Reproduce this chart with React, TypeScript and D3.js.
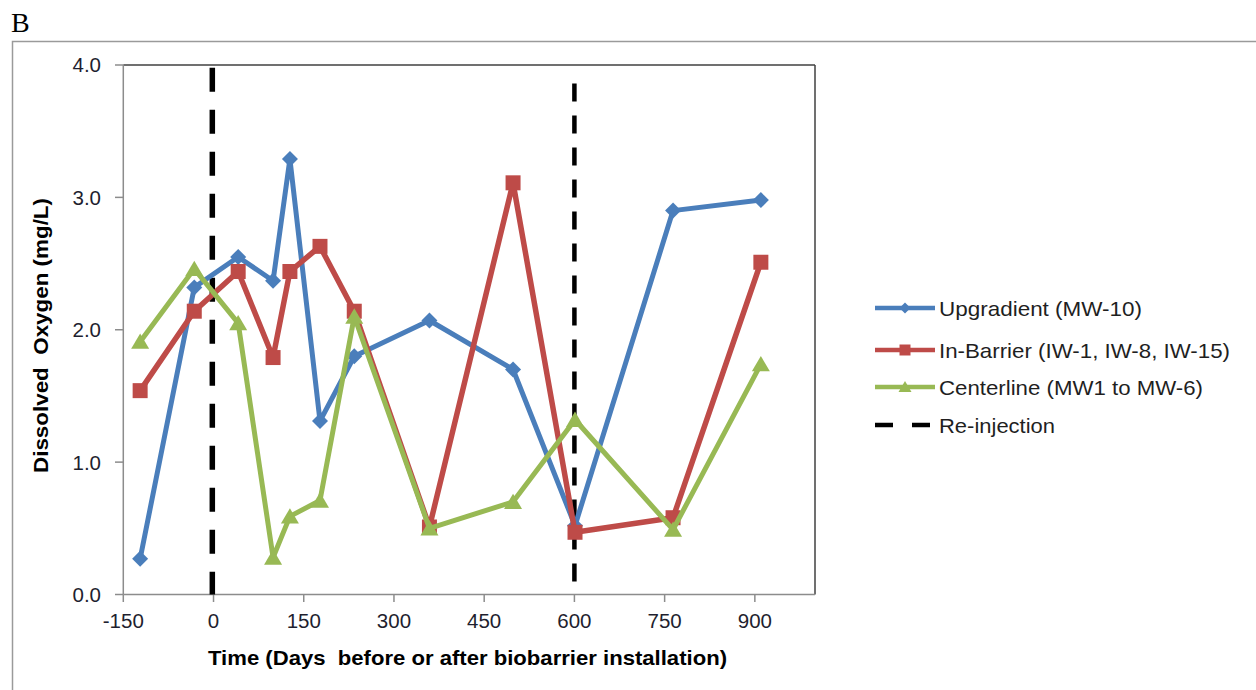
import React from 'react';
import * as d3 from 'd3';

// ---- data ----
const days = [-122, -32, 41, 99, 127, 177, 234, 359, 498, 601, 764, 910];
const upgradient = [0.27, 2.32, 2.55, 2.37, 3.29, 1.31, 1.80, 2.07, 1.70, 0.52, 2.90, 2.98];
const inBarrier = [1.54, 2.14, 2.44, 1.79, 2.44, 2.63, 2.14, 0.51, 3.11, 0.47, 0.58, 2.51];
const centerline = [1.91, 2.46, 2.05, 0.28, 0.59, 0.71, 2.10, 0.50, 0.70, 1.32, 0.49, 1.74];
const reinjectionDays = [-2, 600];
const reinjectionTop = [3.98, 3.86];
const xTicks = [-150, 0, 150, 300, 450, 600, 750, 900];
const yTicks = [0, 1, 2, 3, 4];
const seriesNames = ['Upgradient (MW-10)', 'In-Barrier (IW-1, IW-8, IW-15)', 'Centerline (MW1 to MW-6)', 'Re-injection'];
const xTitle = 'Time (Days  before or after biobarrier installation)';
const yTitle = 'Dissolved  Oxygen (mg/L)';

const W = 1256, H = 690;
const FONT = 'Liberation Sans, Arial, sans-serif';

function markerPath(kind: string, s: number): string {
  if (kind === 'diamond') return `M0,${-s}L${s},0L0,${s}L${-s},0Z`;
  if (kind === 'square') return `M${-s},${-s}H${s}V${s}H${-s}Z`;
  const h = s * 1.8;
  return `M0,${-h / 2 - 1}L${s + 1},${h / 2}L${-s - 1},${h / 2}Z`;
}

export default function App() {
  const x = d3.scaleLinear().domain([-150, 1000]).range([123.3, 815]);
  const y = d3.scaleLinear().domain([0, 4]).range([594.5, 65]);
  const fmt = d3.format('.1f');

  const series = [
    { name: seriesNames[0], values: upgradient, color: '#4A7EBB', kind: 'diamond', ms: 8, ls: 5 },
    { name: seriesNames[1], values: inBarrier, color: '#BE4B48', kind: 'square', ms: 7.5, ls: 5.5 },
    { name: seriesNames[2], values: centerline, color: '#98B954', kind: 'triangle', ms: 8, ls: 5 },
  ];

  const line = d3.line<[number, number]>().x(d => x(d[0])).y(d => y(d[1]));

  const dashStyles = [
    { w: 5.5, dash: '24 18' },
    { w: 4.5, dash: '18 14' },
  ];

  const legendX = 875, legendRows = [308, 350, 387, 425];
  const legendLens = [203, 291, 264, 116];

  return (
    <svg width={W} height={H} style={{ position: 'absolute', left: 0, top: 0, background: '#fff' }}>
      <text x={11} y={32} fontFamily="Liberation Serif, Times New Roman, serif" fontSize={28} fill="#000">B</text>
      <rect x={12.5} y={41.5} width={1300} height={700} fill="none" stroke="#9a9a9a" strokeWidth={1.5} />

      <line x1={123.3} x2={815} y1={65} y2={65} stroke="#404040" strokeWidth={1.5} />
      <line x1={815} x2={815} y1={65} y2={594.5} stroke="#404040" strokeWidth={1.5} />
      <line x1={123.3} x2={123.3} y1={65} y2={594.5} stroke="#8c8c8c" strokeWidth={1.5} />
      <line x1={123.3} x2={815} y1={594.5} y2={594.5} stroke="#8c8c8c" strokeWidth={1.5} />

      {yTicks.map(t => (
        <g key={'y' + t}>
          <line x1={115} x2={123.3} y1={y(t)} y2={y(t)} stroke="#8c8c8c" strokeWidth={1.5} />
          <text x={101} y={y(t)} dy="0.36em" textAnchor="end" fontFamily={FONT} fontSize={20.5} fill="#1f1f2f">{fmt(t)}</text>
        </g>
      ))}
      {xTicks.map(t => (
        <g key={'x' + t}>
          <line x1={x(t)} x2={x(t)} y1={594.5} y2={602} stroke="#8c8c8c" strokeWidth={1.5} />
          <text x={x(t)} y={628} textAnchor="middle" fontFamily={FONT} fontSize={20.5} fill="#1f1f2f">{t}</text>
        </g>
      ))}

      <text x={208} y={665} textLength={519} lengthAdjust="spacingAndGlyphs" fontFamily={FONT} fontWeight="bold" fontSize={20.5} fill="#000" style={{ whiteSpace: 'pre' }}>{xTitle}</text>
      <text transform="translate(47.5,473) rotate(-90)" textLength={275} lengthAdjust="spacingAndGlyphs" fontFamily={FONT} fontWeight="bold" fontSize={19.5} fill="#000" style={{ whiteSpace: 'pre' }}>{yTitle}</text>

      {reinjectionDays.map((d, i) => (
        <line key={'r' + i} x1={x(d)} x2={x(d)} y1={y(reinjectionTop[i])} y2={y(0)} stroke="#000" strokeWidth={dashStyles[i].w} strokeDasharray={dashStyles[i].dash} />
      ))}

      {series.map(s => {
        const pts: [number, number][] = days.map((d, i) => [d, s.values[i]]);
        return (
          <g key={s.name}>
            <path d={line(pts) || ''} fill="none" stroke={s.color} strokeWidth={s.ls} strokeLinejoin="round" />
            {pts.map((p, i) => (
              <path key={i} d={markerPath(s.kind, s.ms)} transform={`translate(${x(p[0])},${y(p[1])})`} fill={s.color} />
            ))}
          </g>
        );
      })}

      {series.map((s, i) => (
        <g key={'lg' + i}>
          <line x1={legendX} x2={legendX + 60} y1={legendRows[i]} y2={legendRows[i]} stroke={s.color} strokeWidth={4.5} />
          <path d={markerPath(s.kind, 5.5)} transform={`translate(${legendX + 30},${legendRows[i]})`} fill={s.color} />
          <text x={939} y={legendRows[i]} dy="0.36em" textLength={legendLens[i]} lengthAdjust="spacingAndGlyphs" fontFamily={FONT} fontSize={21} fill="#1f1f1f">{s.name}</text>
        </g>
      ))}
      <line x1={legendX} x2={legendX + 60} y1={legendRows[3]} y2={legendRows[3]} stroke="#000" strokeWidth={4.5} strokeDasharray="18 19" />
      <text x={939} y={legendRows[3]} dy="0.36em" textLength={legendLens[3]} lengthAdjust="spacingAndGlyphs" fontFamily={FONT} fontSize={21} fill="#1f1f1f">{seriesNames[3]}</text>
    </svg>
  );
}
